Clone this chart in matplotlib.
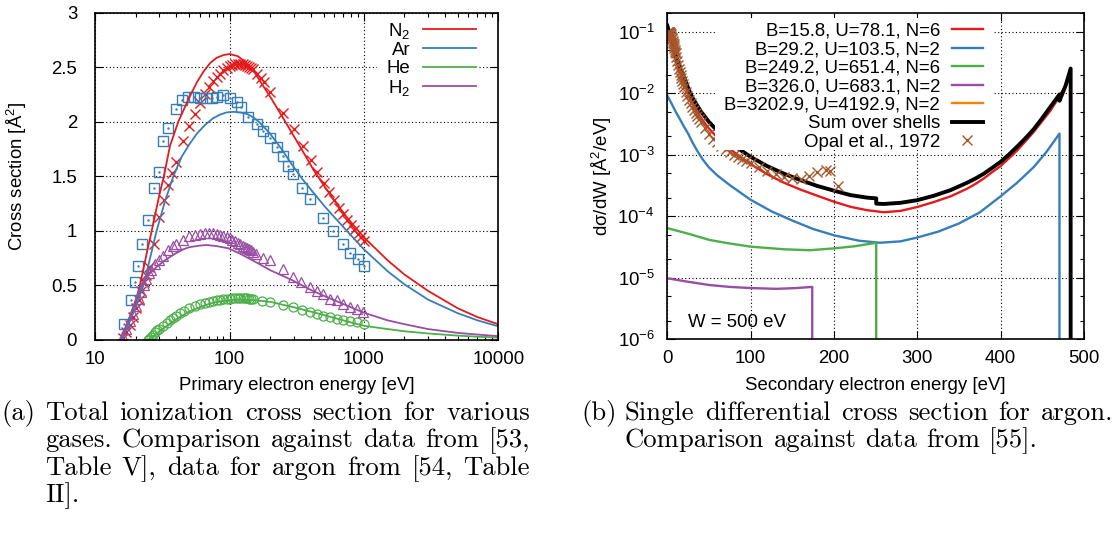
import matplotlib
matplotlib.use('Agg')
import matplotlib.pyplot as plt
from matplotlib.lines import Line2D
from matplotlib.patches import Rectangle
from matplotlib.ticker import LogLocator, FixedLocator, FixedFormatter, NullFormatter, MultipleLocator

plt.rcParams['font.family'] = ['Liberation Sans', 'DejaVu Sans']
plt.rcParams['mathtext.fontset'] = 'custom'
plt.rcParams['mathtext.rm'] = 'Liberation Sans'
plt.rcParams['mathtext.it'] = 'Liberation Sans:italic'
plt.rcParams['mathtext.default'] = 'regular'

FS = 13.4
RED, BLUE, GREEN, PURPLE, ORANGE, BROWN = '#e41a1c', '#377eb8', '#4daf4a', '#984ea3', '#ff7f00', '#a65628'

# ---- (a) total ionization cross section, model curves ----
e_n2_fit = [15.6, 17, 20, 21.5, 24, 26.3, 30, 32.4, 36, 41.5, 50, 57, 64, 72, 80, 90, 100, 115, 130, 150, 175, 200, 240, 290, 350, 420, 513, 600, 750, 1000, 1500, 2000, 3000, 5000, 7000, 10000]
n2_fit = [0, 0.12, 0.36, 0.5, 0.78, 1.0, 1.33, 1.5, 1.78, 2.0, 2.22, 2.36, 2.46, 2.54, 2.585, 2.61, 2.62, 2.6, 2.55, 2.47, 2.34, 2.23, 2.07, 1.9, 1.73, 1.56, 1.4, 1.28, 1.12, 0.94, 0.73, 0.6, 0.45, 0.29, 0.21, 0.144]
e_ar_fit = [15.8, 17, 20, 22.8, 25, 28.6, 33, 38.1, 44, 50, 57, 65.6, 75, 85, 95, 107, 120, 135, 150, 168, 200, 240, 290, 350, 420, 513, 745, 1000, 1500, 2000, 3000, 5000, 7000, 10000]
ar_fit = [0, 0.1, 0.3, 0.5, 0.7, 1.0, 1.27, 1.5, 1.68, 1.79, 1.89, 1.97, 2.03, 2.065, 2.085, 2.09, 2.085, 2.07, 2.04, 1.99, 1.89, 1.76, 1.61, 1.47, 1.35, 1.22, 1.0, 0.83, 0.63, 0.51, 0.37, 0.245, 0.18, 0.125]
e_he_fit = [24.6, 26, 28, 30, 35, 40, 50, 60, 70, 80, 100, 120, 150, 200, 300, 500, 700, 1000, 1500, 2000, 3000, 5000, 7000, 10000]
he_fit = [0, 0.02, 0.05, 0.08, 0.14, 0.19, 0.26, 0.3, 0.33, 0.35, 0.365, 0.37, 0.365, 0.35, 0.3, 0.23, 0.18, 0.13, 0.1, 0.08, 0.06, 0.04, 0.03, 0.022]
e_h2_fit = [15.4, 17, 20, 22, 25, 28.6, 33, 38, 45, 50, 60, 68, 80, 98, 120, 164, 200, 290, 400, 513, 700, 1000, 1500, 2000, 3000, 5000, 7000, 10000]
h2_fit = [0, 0.12, 0.37, 0.5, 0.6, 0.67, 0.73, 0.78, 0.83, 0.85, 0.865, 0.87, 0.86, 0.84, 0.79, 0.7, 0.64, 0.55, 0.46, 0.4, 0.33, 0.25, 0.18, 0.145, 0.1, 0.065, 0.05, 0.035]

# ---- (a) measured points ----
e_n2_dat = [16, 17, 18, 19, 20, 21, 22, 23, 24, 25, 27.5, 30, 32.5, 35, 37.5, 40, 45, 50, 55, 60, 65, 70, 75, 80, 85, 90, 95, 100, 105, 110, 115, 120, 125, 130, 135, 140, 145, 150, 160, 170, 180, 200, 250, 300, 350, 400, 450, 500, 550, 600, 650, 700, 750, 800, 850, 900, 950, 1000]
n2_dat = [0.02, 0.07, 0.14, 0.21, 0.29, 0.37, 0.45, 0.53, 0.6, 0.67, 0.88, 1.13, 1.28, 1.42, 1.53, 1.63, 1.82, 1.96, 2.07, 2.17, 2.25, 2.32, 2.37, 2.41, 2.44, 2.47, 2.49, 2.51, 2.52, 2.53, 2.53, 2.53, 2.53, 2.52, 2.51, 2.5, 2.49, 2.48, 2.44, 2.4, 2.36, 2.27, 2.08, 1.93, 1.78, 1.65, 1.54, 1.44, 1.36, 1.28, 1.21, 1.15, 1.1, 1.05, 1.01, 0.97, 0.94, 0.91]
e_ar_dat = [16.3, 18.4, 19.7, 20.9, 22.4, 24.8, 27.4, 29.9, 32.1, 34.9, 39.6, 43.9, 48.7, 54.2, 60.1, 66.7, 73.5, 80, 89.7, 100.5, 114, 121, 138, 159, 178, 200, 224, 251, 274, 298, 344, 397, 498, 591, 694, 786, 897, 1005]
ar_dat = [0.15, 0.367, 0.53, 0.676, 0.88, 1.1, 1.39, 1.54, 1.82, 1.94, 2.12, 2.2, 2.23, 2.23, 2.22, 2.22, 2.22, 2.23, 2.24, 2.22, 2.18, 2.13, 2.04, 1.98, 1.91, 1.85, 1.77, 1.69, 1.59, 1.52, 1.39, 1.29, 1.12, 1.0, 0.88, 0.8, 0.74, 0.68]
e_he_dat = [24.6, 25, 26, 27, 28, 29, 30, 32, 34, 36, 38, 40, 43, 46, 50, 55, 60, 65, 70, 75, 80, 85, 90, 95, 100, 105, 110, 115, 120, 125, 130, 135, 140, 145, 150, 173, 200, 251, 298, 344, 397, 445, 498, 558, 626, 702, 786, 881, 1005]
he_dat = [0.0, 0.01, 0.03, 0.05, 0.07, 0.09, 0.1, 0.13, 0.16, 0.18, 0.2, 0.22, 0.25, 0.27, 0.29, 0.31, 0.33, 0.34, 0.35, 0.36, 0.365, 0.37, 0.375, 0.378, 0.38, 0.382, 0.383, 0.384, 0.384, 0.384, 0.383, 0.382, 0.38, 0.378, 0.376, 0.36, 0.35, 0.325, 0.3, 0.275, 0.254, 0.239, 0.223, 0.208, 0.193, 0.184, 0.171, 0.162, 0.15]
e_h2_dat = [15.6, 16, 17, 18, 19, 20, 21, 22, 23, 24, 25, 26, 28, 30, 32, 35, 38, 40, 45, 50, 55, 60, 65, 70, 75, 80, 85, 90, 95, 100, 105, 110, 115, 120, 125, 130, 135, 140, 145, 150, 158, 178, 200, 251, 298, 340, 397, 445, 499, 558, 627, 702, 788, 881, 991]
h2_dat = [0.0, 0.03, 0.1, 0.17, 0.24, 0.31, 0.38, 0.44, 0.5, 0.56, 0.61, 0.64, 0.7, 0.73, 0.77, 0.82, 0.86, 0.88, 0.92, 0.95, 0.965, 0.975, 0.98, 0.98, 0.978, 0.972, 0.965, 0.955, 0.945, 0.935, 0.92, 0.905, 0.89, 0.875, 0.86, 0.85, 0.84, 0.83, 0.82, 0.81, 0.79, 0.75, 0.73, 0.647, 0.58, 0.534, 0.488, 0.453, 0.418, 0.376, 0.366, 0.33, 0.305, 0.28, 0.26]
gas_labels = ['N$_2$', 'Ar', 'He', 'H$_2$']

# ---- (b) single differential cross section, argon, W = 500 eV ----
w_red = [0, 2, 5, 10, 15, 20, 25, 30, 40, 50, 60, 80, 100, 120, 140, 160, 180, 200, 220, 240, 260, 280, 300, 320, 340, 360, 370, 380, 390, 400, 410, 420, 430, 440, 450, 460, 470, 478, 484.2, 484.2]
red = [0.115, 0.09, 0.062, 0.036, 0.022, 0.0148, 0.0098, 6.8e-3, 4.0e-3, 2.65e-3, 1.9e-3, 1.1e-3, 7.0e-4, 4.8e-4, 3.5e-4, 2.7e-4, 2.15e-4, 1.72e-4, 1.42e-4, 1.25e-4, 1.16e-4, 1.22e-4, 1.41e-4, 1.7e-4, 2.1e-4, 2.8e-4, 3.35e-4, 4.1e-4, 5.2e-4, 6.5e-4, 8.7e-4, 1.17e-3, 1.65e-3, 2.35e-3, 3.5e-3, 5.2e-3, 8.5e-3, 0.0135, 0.024, 1e-8]
w_blue = [0, 5, 10, 15, 20, 25, 30, 36, 43, 50, 60, 75, 90, 100, 125, 150, 175, 200, 230, 255, 280, 300, 325, 350, 375, 400, 420, 440, 455, 465, 470.8, 470.8]
blue = [9.1e-3, 6.8e-3, 5.0e-3, 3.8e-3, 2.85e-3, 2.2e-3, 1.6e-3, 1.15e-3, 8.2e-4, 6.2e-4, 4.6e-4, 3.2e-4, 2.3e-4, 1.85e-4, 1.2e-4, 8.5e-5, 6.2e-5, 4.9e-5, 4.0e-5, 3.7e-5, 3.9e-5, 4.5e-5, 5.6e-5, 7.6e-5, 1.15e-4, 2.1e-4, 3.5e-4, 6.3e-4, 1.1e-3, 1.7e-3, 2.2e-3, 1e-8]
w_green = [0, 25, 51, 75, 100, 140, 171, 200, 225, 250.8, 250.8]
green = [6.4e-5, 5.2e-5, 4.1e-5, 3.6e-5, 3.2e-5, 2.9e-5, 2.8e-5, 3.0e-5, 3.25e-5, 3.7e-5, 1e-8]
w_purple = [0, 25, 51, 75, 100, 131, 155, 174, 174]
purple = [9.8e-6, 8.6e-6, 7.6e-6, 7.1e-6, 6.8e-6, 6.6e-6, 6.8e-6, 7.1e-6, 1e-8]
w_sum = [0, 2, 5, 10, 15, 20, 25, 30, 40, 50, 60, 80, 100, 120, 140, 160, 180, 200, 220, 240, 250.8, 250.8, 260, 280, 300, 320, 340, 360, 370, 380, 390, 400, 410, 420, 430, 440, 450, 460, 470.8, 470.8, 478, 484.2, 484.2]
total = [0.125, 0.1, 0.07, 0.042, 0.026, 0.018, 0.0122, 8.5e-3, 5.1e-3, 3.4e-3, 2.45e-3, 1.4e-3, 9.2e-4, 6.5e-4, 4.9e-4, 3.85e-4, 3.1e-4, 2.6e-4, 2.2e-4, 2.0e-4, 1.95e-4, 1.6e-4, 1.58e-4, 1.65e-4, 1.82e-4, 2.15e-4, 2.65e-4, 3.5e-4, 4.1e-4, 4.9e-4, 6.1e-4, 7.6e-4, 1.0e-3, 1.35e-3, 1.85e-3, 2.6e-3, 3.9e-3, 6.0e-3, 9.5e-3, 7.5e-3, 0.013, 0.025, 1e-8]
w_opal = [0.5, 1, 1.5, 2, 2.5, 3, 3.5, 4, 4.5, 5, 5.5, 6, 6.5, 7, 7.5, 8, 8.5, 9, 9.5, 10, 11, 12, 13, 14, 15, 16, 17, 18, 19, 20, 22, 24, 26, 28, 30, 32, 34, 36, 38, 40, 45, 50, 55, 60, 65, 70, 75, 80, 85, 90, 95, 100, 110, 120, 130, 140, 150, 160, 170, 180, 190, 195, 205]
opal = [0.1, 0.1, 0.099, 0.098, 0.097, 0.095, 0.093, 0.09, 0.086, 0.082, 0.079, 0.075, 0.07, 0.066, 0.062, 0.058, 0.054, 0.05, 0.047, 0.044, 0.038, 0.033, 0.029, 0.025, 0.022, 0.0195, 0.0175, 0.0155, 0.014, 0.0125, 0.0105, 0.009, 0.0078, 0.0068, 0.006, 0.0053, 0.0047, 0.0042, 0.0038, 0.0034, 0.0027, 0.0022, 0.0018, 0.0016, 0.0014, 0.00125, 0.0011, 0.001, 0.00092, 0.00085, 0.00078, 0.00072, 0.00062, 0.00054, 0.00048, 0.00044, 0.00041, 0.0004, 0.00045, 0.00052, 0.00057, 0.00054, 0.00031]

shell_labels = ['B=15.8, U=78.1, N=6', 'B=29.2, U=103.5, N=2', 'B=249.2, U=651.4, N=6',
                'B=326.0, U=683.1, N=2', 'B=3202.9, U=4192.9, N=2']

caption_a = ['Total ionization cross section for various',
             'gases. Comparison against data from [53,',
             'Table V], data for argon from [54, Table',
             'II].']
caption_b = ['Single differential cross section for argon.',
             'Comparison against data from [55].']

W, H = 1120, 545
fig = plt.figure(figsize=(W / 100, H / 100), dpi=100)
ax1 = fig.add_axes([95.3 / W, (H - 340) / H, 403 / W, 327.5 / H])
ax2 = fig.add_axes([667.3 / W, (H - 339.3) / H, 416.5 / W, 326.3 / H])

grid_kw = dict(color='black', linestyle=(0, (1, 2.2)), linewidth=0.8)


def key(ax, rows, text_px, line_px, y_px, box_px):
    # gnuplot style key: right aligned text, sample to the right, opaque background
    bb = ax.get_position()
    x0, y0, w, h = bb.x0 * W, H - bb.y1 * H, bb.width * W, bb.height * H
    fx = lambda px: (px - x0) / w
    fy = lambda py: 1 - (py - y0) / h
    ax.add_patch(Rectangle((fx(box_px[0]), fy(box_px[3])), fx(box_px[1]) - fx(box_px[0]),
                           fy(box_px[2]) - fy(box_px[3]), transform=ax.transAxes,
                           facecolor='white', edgecolor='none', zorder=4))
    for (label, style), py in zip(rows, y_px):
        ax.text(fx(text_px), fy(py + 6.6), label, transform=ax.transAxes, ha='right',
                va='baseline', fontsize=FS, zorder=5)
        if style.get('marker'):
            xs, ys = [fx((line_px[0] + line_px[1]) / 2)], [fy(py)]
        else:
            xs, ys = [fx(line_px[0]), fx(line_px[1])], [fy(py)] * 2
        ax.add_line(Line2D(xs, ys, transform=ax.transAxes, zorder=5, **style))


# left panel
fit_colors = [RED, BLUE, GREEN, PURPLE]
for xs, ys, c in zip([e_n2_fit, e_ar_fit, e_he_fit, e_h2_fit], [n2_fit, ar_fit, he_fit, h2_fit], fit_colors):
    ax1.plot(xs, ys, color=c, lw=1.3, zorder=3)
ax1.plot(e_n2_dat, n2_dat, ls='none', marker='x', ms=6.5, mew=1.0, color=RED)
ax1.plot(e_ar_dat, ar_dat, ls='none', marker='s', ms=6.5, mew=1.0, mfc='none', color=BLUE)
ax1.plot(e_ar_dat, ar_dat, ls='none', marker='.', ms=1.5, color=BLUE)
ax1.plot(e_he_dat, he_dat, ls='none', marker='o', ms=6.5, mew=0.9, mfc='none', color=GREEN)
ax1.plot(e_h2_dat, h2_dat, ls='none', marker='^', ms=6.5, mew=0.9, mfc='none', color=PURPLE)
ax1.set_xscale('log')
ax1.set_xlim(10, 10000)
ax1.set_ylim(0, 3)
ax1.xaxis.set_major_locator(FixedLocator([10, 100, 1000, 10000]))
ax1.xaxis.set_major_formatter(FixedFormatter(['10', '100', '1000', '10000']))
ax1.xaxis.set_minor_locator(LogLocator(base=10, subs=range(2, 10)))
ax1.xaxis.set_minor_formatter(NullFormatter())
ax1.yaxis.set_major_locator(FixedLocator([0, 0.5, 1, 1.5, 2, 2.5, 3]))
ax1.yaxis.set_major_formatter(FixedFormatter(['0', '0.5', '1', '1.5', '2', '2.5', '3']))
ax1.grid(True, which='major', **grid_kw)
ax1.set_xlabel('Primary electron energy [eV]', fontsize=FS)
ax1.set_ylabel('Cross section [Å$^2$]', fontsize=FS)
ax1.xaxis.set_label_coords(0.5, -0.113)
ax1.yaxis.set_label_coords(-0.164, 0.5)
key(ax1, [(l, dict(color=c, lw=1.3)) for l, c in zip(gas_labels, fit_colors)],
    410.7, (422.7, 475.7), [29.3, 48.3, 66.7, 86], (377, 478, 18, 96))

# right panel
shell_data = [(w_red, red, RED), (w_blue, blue, BLUE), (w_green, green, GREEN), (w_purple, purple, PURPLE)]
for xs, ys, c in shell_data:
    ax2.plot(xs, ys, color=c, lw=1.7, zorder=2)
ax2.plot(w_sum, total, color='black', lw=2.8, zorder=2.5)
ax2.plot(w_opal, opal, ls='none', marker='x', ms=6.5, mew=1.0, color=BROWN, zorder=3)
ax2.set_yscale('log')
ax2.set_xlim(0, 500)
ax2.set_ylim(1e-6, 0.2)
ax2.xaxis.set_major_locator(MultipleLocator(100))
ax2.yaxis.set_major_locator(LogLocator(base=10, numticks=10))
ax2.yaxis.set_minor_locator(LogLocator(base=10, subs=(2, 5), numticks=10))
ax2.yaxis.set_minor_formatter(NullFormatter())
ax2.grid(True, which='major', **grid_kw)
ax2.set_xlabel('Secondary electron energy [eV]', fontsize=FS)
ax2.set_ylabel('dσ/dW [Å$^2$/eV]', fontsize=FS)
ax2.xaxis.set_label_coords(0.5, -0.115)
ax2.yaxis.set_label_coords(-0.128, 0.5)
ax2.text(0.05, 0.05, 'W = 500 eV', transform=ax2.transAxes, fontsize=FS, ha='left', va='center')
rows2 = [(l, dict(color=c, lw=1.7)) for l, c in zip(shell_labels, [RED, BLUE, GREEN, PURPLE, ORANGE])]
rows2.append(('Sum over shells', dict(color='black', lw=2.8)))
rows2.append(('Opal et al., 1972', dict(color=BROWN, ls='none', marker='x', ms=6.5, mew=1.0)))
key(ax2, rows2, 940, (951.7, 982.7), [29, 47.5, 66, 84.5, 103, 121.5, 140], (715, 993, 18, 150))

for ax in (ax1, ax2):
    ax.tick_params(which='both', direction='in', top=True, right=True, labelsize=FS)
    ax.tick_params(which='major', length=6, width=0.8)
    ax.tick_params(which='minor', length=3, width=0.8)
    ax.tick_params(axis='x', pad=8)
    for s in ax.spines.values():
        s.set_linewidth(1.2)
        s.set_zorder(6)
ax1.tick_params(axis='y', pad=13)
ax2.tick_params(axis='y', pad=9)

# captions, justified like the LaTeX source
cap_kw = dict(family='cmr10', fontsize=19.2, va='baseline', ha='left')
renderer = fig.canvas.get_renderer()


def caption_line(x0, x1, py, text):
    words = text.split()
    objs = [fig.text(0, 1 - py / H, wd, **cap_kw) for wd in words]
    widths = [o.get_window_extent(renderer).width for o in objs]
    space = objs[0].get_fontsize() * 100 / 72 * 0.333
    if x1 is not None and len(words) > 1:
        space = max(space, (x1 - x0 - sum(widths)) / (len(words) - 1))
    x = x0
    for o, wd in zip(objs, widths):
        o.set_x(x / W)
        x += wd + space


fig.text(1 / W, 1 - 420 / H, '(a)', **cap_kw)
for i, line in enumerate(caption_a):
    caption_line(45, 530 if i < len(caption_a) - 1 else None, 420 + 27.4 * i, line)
fig.text(581 / W, 1 - 420 / H, '(b)', **cap_kw)
for i, line in enumerate(caption_b):
    caption_line(625, 1113 if i < len(caption_b) - 1 else None, 420 + 27.4 * i, line)

fig.savefig('out.png', dpi=100)
